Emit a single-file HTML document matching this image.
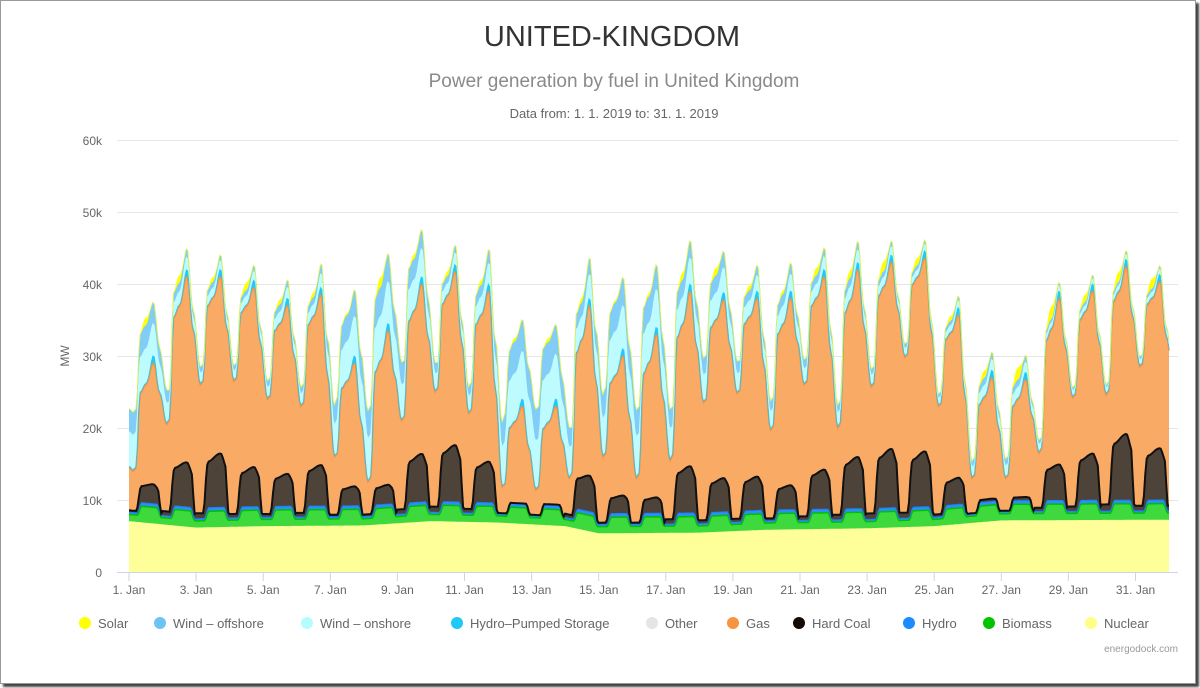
<!DOCTYPE html>
<html><head><meta charset="utf-8"><style>
html,body{margin:0;padding:0;background:#fff;}
body{width:1200px;height:688px;overflow:hidden;position:relative;font-family:"Liberation Sans",sans-serif;}
#frame{position:absolute;left:0;top:0;width:1194px;height:682px;border:1px solid #9a9a9a;box-shadow:3px 3px 2px #444;background:#fff;}
svg{position:absolute;left:0;top:0;}
</style></head><body>
<div id="frame"></div>
<svg id="s" width="1200" height="688" xmlns="http://www.w3.org/2000/svg" font-family="Liberation Sans, sans-serif">
<text x="612" y="46" text-anchor="middle" font-size="29" fill="#333">UNITED-KINGDOM</text>
<text x="614" y="87" text-anchor="middle" font-size="19" fill="#8a8a8a">Power generation by fuel in United Kingdom</text>
<text x="614" y="118" text-anchor="middle" font-size="13" fill="#666">Data from: 1. 1. 2019 to: 31. 1. 2019</text>
<g stroke="#e6e6e6" stroke-width="1">
<line x1="117" x2="1178" y1="140.5" y2="140.5"/><line x1="117" x2="1178" y1="212.5" y2="212.5"/>
<line x1="117" x2="1178" y1="284.5" y2="284.5"/><line x1="117" x2="1178" y1="356.5" y2="356.5"/>
<line x1="117" x2="1178" y1="428.5" y2="428.5"/><line x1="117" x2="1178" y1="500.5" y2="500.5"/>
</g>
<g font-size="12" fill="#666" text-anchor="end">
<text x="102" y="145">60k</text><text x="102" y="217">50k</text><text x="102" y="289">40k</text>
<text x="102" y="361">30k</text><text x="102" y="433">20k</text><text x="102" y="505">10k</text><text x="102" y="577">0</text>
</g>
<text x="0" y="0" font-size="12" fill="#666" text-anchor="middle" transform="translate(69,356) rotate(-90)">MW</text>
<g id="areas"></g>
<line x1="117" x2="1178" y1="572.5" y2="572.5" stroke="#ccd6eb"/>
<g id="ticks" stroke="#ccd6eb"></g>
<g id="xl" font-size="12" fill="#666" text-anchor="middle"></g>
<g font-size="13" fill="#666">
<circle cx="85" cy="623" r="6" fill="#ffff00"/><text x="98" y="628">Solar</text>
<circle cx="160" cy="623" r="6" fill="#6cc4f5"/><text x="173" y="628">Wind – offshore</text>
<circle cx="307" cy="623" r="6" fill="#b5fcff"/><text x="320" y="628">Wind – onshore</text>
<circle cx="457" cy="623" r="6" fill="#1ec8f7"/><text x="470" y="628">Hydro–Pumped Storage</text>
<circle cx="652" cy="623" r="6" fill="#e5e5e5"/><text x="665" y="628">Other</text>
<circle cx="733" cy="623" r="6" fill="#f7943f"/><text x="746" y="628">Gas</text>
<circle cx="799" cy="623" r="6" fill="#150a05"/><text x="812" y="628">Hard Coal</text>
<circle cx="909" cy="623" r="6" fill="#1a8cff"/><text x="922" y="628">Hydro</text>
<circle cx="989" cy="623" r="6" fill="#00c400"/><text x="1002" y="628">Biomass</text>
<circle cx="1091" cy="623" r="6" fill="#ffff88"/><text x="1104" y="628">Nuclear</text>
</g>
<text x="1178" y="652" text-anchor="end" font-size="10" fill="#999">energodock.com</text>
</svg>
<script>
(function(){
var X0=129,DX=33.55,Y0=572,K=7.2;
function px(t){return X0+t/24*DX;}function py(v){return Y0-v*K;}
var T=[14,20.5,26,26.5,24,23,16,12.5,21,25,22,11.8,11.4,13,16,13,15.5,23.5,24.8,19.7,26,20,25.7,29.8,23,13,13,16.5,24.2,24.6,28.5,25];
var P=[29,41,41,39.5,37,38.5,29,33.5,40,41.7,39,23,23,37,30,33,39,37.8,38,38,41,42,43,43.6,35.7,27,26.7,38,39,42.4,40.3];
var C=[11.5,15,16.3,14.3,13.3,14.5,11.5,11.5,15.5,16.7,14.5,8.5,9,13.8,11.3,11,15.3,13.5,13.5,12.2,14.3,16,17,16.5,12.5,9.2,9.3,13.8,15.3,18,16];
var W=[8,3,2,2,2.5,2.5,9,10,7,2.5,4,11,11,5,10,9,6,6,3.5,4,3,3,2,1.5,1.5,2.5,2.5,1.2,1.2,1.2,1.2,1.2];
var S=[1.5,1.5,1,1.5,1,1,.5,2,1,1,1,.7,.8,1,.5,.7,1.5,1.5,1,.8,1.5,1.5,2,1.5,1,1.5,2.5,2.5,1.5,2,2];
var NK=[[0,7],[2,6.1],[4,6.3],[7,6.4],[9,7],[11,6.8],[13,6.3],[14,5.3],[17,5.4],[19,5.8],[22,6],[24,6.3],[26,7.1],[31,7.2]];
function nuc(t){var d=t/24;for(var i=0;i<NK.length-1;i++){if(d<=NK[i+1][0]){var f=(d-NK[i][0])/(NK[i+1][0]-NK[i][0]);return NK[i][1]+f*(NK[i+1][1]-NK[i][1]);}}return 7.2;}
function interp(pts,h){for(var i=0;i<pts.length-1;i++){if(h<=pts[i+1][0]){var f=(h-pts[i][0])/(pts[i+1][0]-pts[i][0]);f=(1-Math.cos(Math.PI*f))/2;return pts[i][1]+f*(pts[i+1][1]-pts[i][1]);}}return pts[pts.length-1][1];}
function gasTop(t){var d=Math.floor(t/24),h=t-d*24;
 var pts=[];
 for(var k=-1;k<=1;k++){var dd=d+k;if(dd<0||dd>30)continue;var tt=T[dd],pp=P[dd],tn=T[dd+1];var o=k*24;
  pts.push([o+3,tt],[o+5,tt+.03*(pp-tt)],[o+8,tt+.72*(pp-tt)],[o+12,tt+.8*(pp-tt)],[o+17.5,pp],[o+22,tn+.5*(pp-tn)]);}
 if(d===0)pts.unshift([0,14.5]);
 if(d>=30)pts.push([24*(31-d)+4,T[31]]);
 pts.sort(function(a,b){return a[0]-b[0]});
 return interp(pts,h);}
function dayShape(h){return interp([[0,0],[6,0],[9,1],[20,1],[23,0],[24,0]],h);}
function wind(t){var u=t/24-0.5;if(u<0)return W[0];var i=Math.floor(u);if(i>=30)return W[30];var f=u-i;f=(1-Math.cos(Math.PI*f))/2;return W[i]+(W[i+1]-W[i])*f;}
function series(){var N=744,R={nuc:[],bio:[],hyd:[],coal:[],gas:[],ps:[],on:[],off:[],sol:[]};
 for(var i=0;i<=N;i++){var t=i,d=Math.min(30,Math.floor(t/24)),h=t-Math.floor(t/24)*24;
  var n=nuc(t),ds=dayShape(h),b=1.0+1.3*ds,hy=.3+.2*ds;
  var base=n+b+hy;var A=Math.max(0,C[d]-8.8);
  var cs=interp([[0,.1],[5,.1],[8,.85],[17.5,1],[21,.8],[23,.1],[24,.1]],h);
  var coal=Math.max(.1,A*cs);
  var g=Math.max(.5,gasTop(t)-base-coal);
  var ps=.2+0.9*interp([[0,0],[14,0],[17.5,1],[21,0],[24,0]],h);
  var w=wind(t);
  var sol=h>8&&h<16?0.7*S[d]*Math.sin(Math.PI*(h-8)/8):0;
  R.nuc.push(n);R.bio.push(b);R.hyd.push(hy);R.coal.push(coal);R.gas.push(g);R.ps.push(ps);R.on.push(w*.6);R.off.push(w*.4);R.sol.push(sol);}
 return R;}
var R=series(),order=[["nuc","#ffff99","#ffff99",1],["bio","#3dd93d","#00c000",1.5],["hyd","#2a90f5","#1a80ff",1],["coal","#4e4339","#111",2],["gas","#f9ab66","#f7913d",1.5],["ps","#22c8f6","#22c8f6",0.8],["on","#bdfbff","#bdfbff",0.8],["off","#82cdf7","#82cdf7",0.8],["sol","#ffff00","#ffff00",0.6]];
var cum=[];for(var i=0;i<R.nuc.length;i++)cum.push(0);
var g=document.getElementById("areas"),out="",lines="";
var layers=[];
order.forEach(function(o){var prev=cum.slice();for(var i=0;i<cum.length;i++)cum[i]+=R[o[0]][i];layers.push([o,prev,cum.slice()]);});
layers.forEach(function(L){var o=L[0],lo=L[1],hi=L[2],d="M",ln="M";
 for(var i=0;i<hi.length;i++){d+=px(i).toFixed(1)+","+py(hi[i]).toFixed(1)+" ";ln+=px(i).toFixed(1)+","+py(hi[i]).toFixed(1)+" ";}
 for(var i=lo.length-1;i>=0;i--)d+=px(i).toFixed(1)+","+py(lo[i]).toFixed(1)+" ";
 out+='<path d="'+d+'Z" fill="'+o[1]+'"/>';
 lines+='<path d="'+ln+'" fill="none" stroke="'+o[2]+'" stroke-width="'+o[3]+'"/>';});
g.innerHTML=out+lines;
var tk="",xl="";for(var k=0;k<16;k++){var x=(X0+k*2*DX).toFixed(1);tk+='<line x1="'+x+'" x2="'+x+'" y1="572" y2="581"/>';xl+='<text x="'+x+'" y="594">'+(1+2*k)+'. Jan</text>';}
document.getElementById("ticks").innerHTML=tk;document.getElementById("xl").innerHTML=xl;
})();
</script>
</body></html>
